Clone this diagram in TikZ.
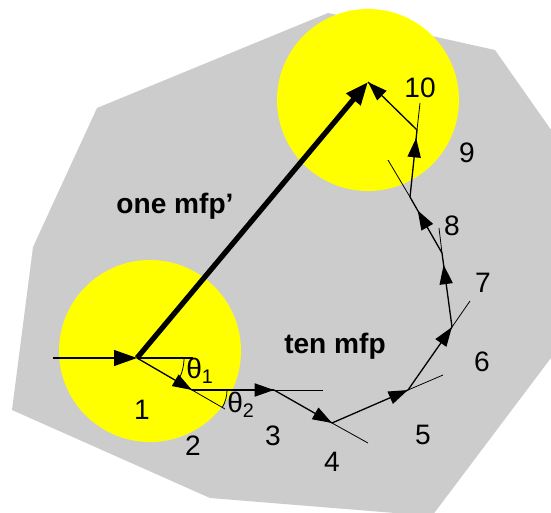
\documentclass[tikz,border=0pt]{standalone}
\usepackage{fontspec}
\setmainfont{Liberation Sans}
\usetikzlibrary{arrows.meta,decorations.markings}

\definecolor{bggray}{RGB}{204,204,204}
\definecolor{spotyellow}{RGB}{255,255,0}

\tikzset{
  seg/.style={line width=0.75pt,postaction={decorate},
    decoration={markings,mark=at position #1 with {\arrow{Triangle[length=11pt,width=7.5pt]}}}},
  seg/.default=0.999,
  ext/.style={line width=0.45pt},
  num/.style={font=\fontsize{16}{18}\selectfont},
  tag/.style={font=\fontsize{16}{18}\selectfont\bfseries}
}

\begin{document}
\begin{tikzpicture}[x=0.02cm,y=-0.02cm]
    \clip (0,0) rectangle (551,513);
    \fill[bggray] (12,410) -- (33,247) -- (97,108) -- (328,13) -- (495,50)
      -- (575,164) -- (575,326) -- (432,516) -- (210,498) -- cycle;
    \fill[spotyellow] (150,351) circle[radius=91];
    \fill[spotyellow] (368,100) circle[radius=91];
    \coordinate (in) at (53,358);
    \coordinate (p1) at (137,358);
    \coordinate (h1) at (193,358);
    \coordinate (p2) at (192,390);
    \coordinate (x2) at (225,409);
    \coordinate (p3) at (274,390);
    \coordinate (x3) at (323,390);
    \coordinate (p4) at (332,423);
    \coordinate (x4) at (368,443);
    \coordinate (p5) at (408,390);
    \coordinate (x5) at (443,375);
    \coordinate (p6) at (452,327);
    \coordinate (x6) at (470,301);
    \coordinate (p7) at (442,253);
    \coordinate (x7) at (439,228);
    \coordinate (p8) at (410,197);
    \coordinate (x8) at (388,160);
    \coordinate (p9) at (417,130);
    \coordinate (x9) at (420,103);
    \coordinate (p10) at (368,82);
    \draw[ext] (p2) -- (x2);
    \draw[ext] (p3) -- (x3);
    \draw[ext] (p4) -- (x4);
    \draw[ext] (p5) -- (x5);
    \draw[ext] (p6) -- (x6);
    \draw[ext] (p7) -- (x7);
    \draw[ext] (p8) -- (x8);
    \draw[ext] (p9) -- (x9);
    \draw[line width=0.75pt] (p1) -- (h1);
    \draw[ext] (p1) ++(47,0) arc[start angle=0,end angle=30,radius=47];
    \draw[ext] (p2) ++(35,0) arc[start angle=0,end angle=30,radius=35];
    \draw[line width=3pt,-{Triangle[length=13pt,width=10pt]}] (p1) -- (p10);
    \draw[line width=0.75pt,-{Triangle[length=13pt,width=9pt]}] (in) -- (p1);
    \draw[seg] (p1) -- (p2);
    \draw[seg] (p2) -- (p3);
    \draw[seg] (p3) -- (p4);
    \draw[seg] (p4) -- (p5);
    \draw[seg] (p5) -- (p6);
    \draw[seg=0.84] (p6) -- (p7);
    \draw[seg=0.76] (p7) -- (p8);
    \draw[seg=0.88] (p8) -- (p9);
    \draw[seg] (p9) -- (p10);
    \node[num,anchor=west,inner sep=0pt] (t1) at (186,371) {θ\textsubscript{1}};
    \node[num,anchor=west,inner sep=0pt] (t2) at (227,405) {θ\textsubscript{2}};
    \node[num] (n1) at (142,410) {1};
    \node[num] (n2) at (193,446) {2};
    \node[num] (n3) at (273,436) {3};
    \node[num] (n4) at (332,462) {4};
    \node[num] (n5) at (423,435) {5};
    \node[num] (n6) at (482,362) {6};
    \node[num] (n7) at (483,283) {7};
    \node[num] (n8) at (452,226) {8};
    \node[num] (n9) at (467,153) {9};
    \node[num] (n10) at (420,88) {10};
    \node[tag] (one) at (175,206) {one mfp'};
    \node[tag] (ten) at (335,346) {ten mfp};
  \end{tikzpicture}
\end{document}
